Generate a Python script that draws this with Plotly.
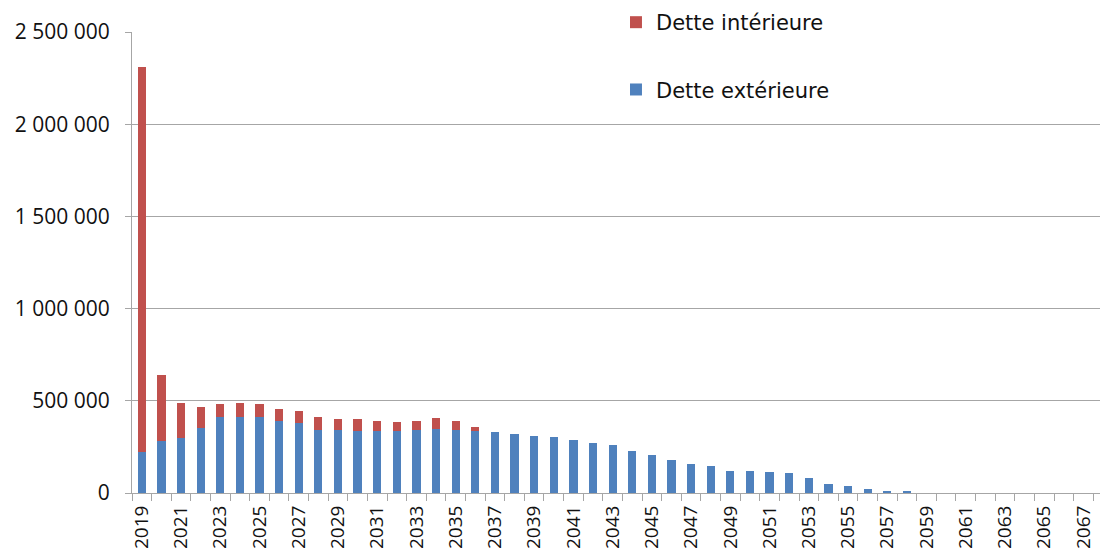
import plotly.graph_objects as go

years = list(range(2019, 2069))

dette_exterieure = [
    225000, 280000, 298000, 352000, 412000, 412000, 412000, 393000, 381000, 339000,
    339000, 334000, 334000, 334000, 339000, 347000, 339000, 334000, 329000, 322000,
    310000, 305000, 287000, 269000, 263000, 228000, 204000, 180000, 157000, 144000,
    121000, 121000, 114000, 108000, 79000, 50000, 36000, 20000, 12000, 8000,
    0, 0, 0, 0, 0, 0, 0, 0, 0, 0,
]

dette_interieure = [
    2085000, 362000, 190000, 112000, 70000, 76000, 70000, 60000, 65000, 73000,
    60000, 65000, 59000, 52000, 54000, 59000, 54000, 23000, 0, 0,
    0, 0, 0, 0, 0, 0, 0, 0, 0, 0,
    0, 0, 0, 0, 0, 0, 0, 0, 0, 0,
    0, 0, 0, 0, 0, 0, 0, 0, 0, 0,
]

y_ticks = [0, 500000, 1000000, 1500000, 2000000, 2500000]
y_ticktext = ["0", "500 000", "1 000 000", "1 500 000", "2 000 000", "2 500 000"]

label_years = [y for y in years if (y - 2019) % 2 == 0]

BLUE = "#4F81BD"
RED = "#C0504D"
GRID = "#A6A6A6"

fig = go.Figure()
fig.add_trace(go.Bar(
    x=years, y=dette_exterieure, name="Dette extérieure",
    marker=dict(color=BLUE, line=dict(width=0)),
    legendgroup="ext", legendrank=2,
))
fig.add_trace(go.Bar(
    x=years, y=dette_interieure, name="Dette intérieure",
    marker=dict(color=RED, line=dict(width=0)),
    legendgroup="int", legendrank=1,
))

fig.update_layout(
    width=1100, height=549,
    barmode="stack", bargap=0.58,
    paper_bgcolor="white", plot_bgcolor="white",
    margin=dict(l=124, r=0, t=24, b=64, autoexpand=False),
    showlegend=True,
    legend=dict(
        xref="container", yref="paper",
        x=0.5527, y=1.065, xanchor="left", yanchor="top",
        bgcolor="rgba(0,0,0,0)",
        font=dict(family="DejaVu Sans", size=21, color="#111"),
        tracegroupgap=37,
        traceorder="grouped",
        itemsizing="constant",
    ),
    xaxis=dict(
        type="linear",
        automargin=False,
        range=[2018.5, 2068.25],
        tickmode="array",
        tickvals=label_years,
        ticktext=[str(y) for y in label_years],
        tickangle=-90,
        ticks="outside", ticklen=4, tickcolor="rgba(0,0,0,0)",
        tickfont=dict(family="Open Sans", size=19, color="#111"),
        showgrid=False, zeroline=False,
        showline=True, linecolor=GRID, linewidth=1,
        minor=dict(
            tickmode="array",
            tickvals=[y - 0.5 for y in years] + [years[-1] + 0.5],
            ticks="outside", ticklen=7, tickcolor=GRID, tickwidth=1,
            showgrid=False,
        ),
    ),
    yaxis=dict(
        automargin=False,
        range=[0, 2500000],
        tickmode="array",
        tickvals=y_ticks,
        ticktext=y_ticktext,
        ticks="outside", ticklen=6, tickcolor=GRID,
        tickfont=dict(family="Open Sans", size=21, color="#111"),
        ticklabelstandoff=11,
        showgrid=True, gridcolor=GRID, gridwidth=1,
        zeroline=False,
        showline=True, linecolor=GRID, linewidth=1,
    ),
)

fig.write_html("out.html")
